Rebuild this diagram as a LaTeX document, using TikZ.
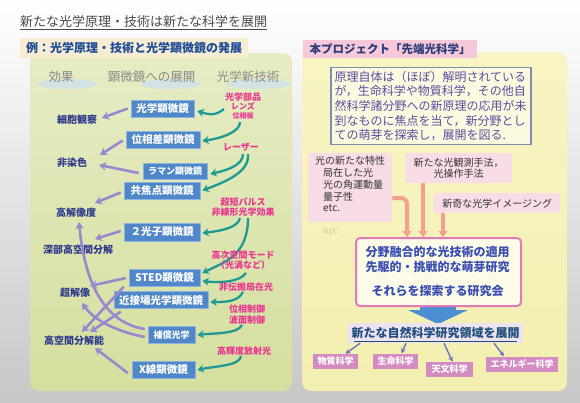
\documentclass[tikz,border=0pt]{standalone}
\usepackage{fontspec}
\setmainfont{Noto Sans CJK JP}
\usetikzlibrary{arrows.meta}
\definecolor{mblue}{HTML}{4F87C8}
\definecolor{mblueedge}{HTML}{8DB4E0}
\definecolor{purp}{HTML}{9B87CD}
\definecolor{tealA}{HTML}{1F9A92}
\definecolor{magtx}{HTML}{EA3590}
\definecolor{effbl}{HTML}{2E3A8C}
\definecolor{hdrgray}{HTML}{8A8A8A}
\definecolor{grnT}{HTML}{E6ECC4}
\definecolor{grnB}{HTML}{D4DF9E}
\definecolor{yelT}{HTML}{F8F5C4}
\definecolor{yelB}{HTML}{F3EFB0}
\definecolor{cream}{HTML}{F7EDD3}
\definecolor{pinkhdr}{HTML}{F5C8DA}
\definecolor{pinklt}{HTML}{F8DCE6}
\definecolor{navy}{HTML}{2C3C7A}
\definecolor{hdrblue}{HTML}{1F4C96}
\definecolor{txtpurp}{HTML}{5E4C9F}
\definecolor{bordgray}{HTML}{7E8CAE}
\definecolor{salmon}{HTML}{F4A08E}
\definecolor{pinkbord}{HTML}{E07BB8}
\definecolor{resblue}{HTML}{3A4DB2}
\definecolor{arrblue}{HTML}{4A8FD2}
\definecolor{lav}{HTML}{ECE2F0}
\definecolor{deepbl}{HTML}{1F4F7C}
\definecolor{orchidb}{HTML}{D48BC1}
\definecolor{slatea}{HTML}{6E72C6}
\definecolor{darktx}{HTML}{333333}
\definecolor{titlegray}{HTML}{4A4A4A}
\definecolor{glow}{HTML}{CFE1EE}
\newcommand\fsz[2]{\fontsize{#1}{#2}\selectfont}
\tikzset{
  mscope/.style={draw=mblueedge, line width=0.6pt, fill=mblue, text=white, font=\bfseries\fsz{10.5}{12}, inner sep=0pt, minimum height=17pt},
  eff/.style={text=effbl, font=\bfseries\fsz{10}{12}, inner sep=0pt},
  tech/.style={text=magtx, font=\bfseries\fsz{9}{10.5}, align=center, inner sep=0pt},
  colhdr/.style={text=hdrgray, font=\fsz{12.5}{14}, inner sep=0pt},
  tarr/.style={draw=tealA, line width=2.3pt, -{Stealth[length=6.5pt,width=8pt]}},
  parr/.style={draw=purp, line width=2.6pt, -{Stealth[length=7pt,width=8.5pt]}},
  sarr/.style={draw=salmon, line width=4pt, -{Triangle[length=6pt,width=9pt]}},
  barr/.style={draw=slatea, line width=1.4pt, -{Stealth[length=5pt,width=5pt]}},
  sci/.style={fill=orchidb, text=white, font=\bfseries\fsz{9}{10}, inner sep=0pt, minimum height=15pt},
}
\begin{document}
\begin{tikzpicture}[x=1pt,y=-1pt]
\useasboundingbox (0,0) rectangle (580,402);
\shade[top color=white, bottom color=black!22] (0,0) rectangle (580,402);
% title
\node[anchor=west, text=titlegray, font=\fsz{13}{15}, inner sep=0pt] (title) at (20,22) {新たな光学原理・技術は新たな科学を展開};
\draw[titlegray, line width=0.8pt] ([yshift=-1.5pt]title.south west) -- ([yshift=-1.5pt]title.south east);
% left panel
\shade[top color=grnT, bottom color=grnB, rounded corners=9pt] (30,53) rectangle (292,391);
\node[fill=cream, anchor=north west, minimum width=228pt, minimum height=20pt, inner sep=0pt, text=hdrblue, font=\bfseries\fsz{12}{14}] (lhdr) at (20,38) {例：光学原理・技術と光学顕微鏡の発展};
% column headers
\fill[glow, opacity=0.8] (67,84) ellipse [x radius=30pt, y radius=5pt];
\fill[glow, opacity=0.8] (170,84) ellipse [x radius=30pt, y radius=5pt];
\fill[glow, opacity=0.8] (258,84) ellipse [x radius=32pt, y radius=5pt];
\node[colhdr] (h1) at (61,77) {効果};
\node[colhdr] (h2) at (151.5,77) {顕微鏡への展開};
\node[colhdr] (h3) at (248,77) {光学新技術};
% microscopes
\node[mscope, minimum width=63pt] (m1) at (162.5,108.5) {光学顕微鏡};
\node[mscope, minimum width=74pt] (m2) at (163,139.5) {位相差顕微鏡};
\node[mscope, minimum width=64pt, minimum height=16pt, font=\bfseries\fsz{9}{10}] (m3) at (175,171) {ラマン顕微鏡};
\node[mscope, minimum width=76pt] (m4) at (162,190.5) {共焦点顕微鏡};
\node[mscope, minimum width=76pt, minimum height=18pt] (m5) at (162,232) {２光子顕微鏡};
\node[mscope, minimum width=71pt] (m6) at (164.5,278) {STED顕微鏡};
\node[mscope, minimum width=94pt] (m7) at (161,300) {近接場光学顕微鏡};
\node[mscope, minimum width=47pt, font=\bfseries\fsz{9}{10}] (m8) at (171.5,335) {補償光学};
\node[mscope, minimum width=63pt] (m9) at (163.5,370) {X線顕微鏡};
% effects
\node[eff] (e1) at (77,120) {細胞観察};
\node[eff] (e2) at (72,163) {非染色};
\node[eff] (e3) at (76,213) {高解像度};
\node[eff] (e4) at (78,250) {深部高空間分解};
\node[eff] (e5) at (75,293) {超解像};
\node[eff] (e6) at (74,341) {高空間分解能};
% teal arrows
\draw[tarr] (224,109) .. controls (214,117) and (207,114) .. ([xshift=3pt,yshift=-2.5pt]m1.east);
\draw[tarr] (240,122) .. controls (240,132) and (222,138) .. ([xshift=2pt,yshift=-1.5pt]m2.east);
\draw[tarr] (243,154) .. controls (243,165) and (228,170) .. ([xshift=3pt,yshift=-3pt]m3.east);
\draw[tarr] (248,154) .. controls (250,172) and (225,182) .. ([xshift=2pt]m4.east);
\draw[tarr] (240,218) .. controls (238,228) and (220,231) .. ([xshift=2pt,yshift=-1pt]m5.east);
\draw[tarr] (248,218) .. controls (248,255) and (225,262) .. ([xshift=2pt,yshift=5pt]m6.east);
\draw[tarr] (246,273) .. controls (240,282) and (220,283) .. ([xshift=2pt,yshift=-3pt]m6.east);
\draw[tarr] (243,292) .. controls (238,302) and (225,302) .. ([xshift=2pt,yshift=-2pt]m7.east);
\draw[tarr] (242,325) .. controls (238,334) and (215,333) .. ([xshift=2pt]m8.east);
\draw[tarr] (241,356) .. controls (240,366) and (215,366) .. ([xshift=2pt]m9.east);
% techniques (on top of arrows)
\node[tech, font=\bfseries\fsz{9}{9}] (t1) at (243,106) {光学部品\\{\fsz{8}{9}レンズ}\\{\fsz{7}{9}位相板}};
\node[tech] (t2) at (241,147) {レーザー};
\node[tech] (t3) at (243,207) {超短パルス\\非線形光学効果};
\node[tech] (t4) at (243,260) {高次空間モード\\（光渦など）};
\node[tech] (t5) at (246,287) {非伝搬局在光};
\node[tech] (t6) at (247,314.5) {位相制御\\波面制御};
\node[tech] (t7) at (244,351) {高輝度放射光};
% purple arrows
\draw[parr] ([xshift=-3pt]m1.west) -- (102,118);
\draw[parr] ([xshift=-3pt,yshift=-1pt]m2.west) -- (100,155);
\draw[parr] ([xshift=-4pt,yshift=-2pt]m3.west) -- (99,165);
\draw[parr] ([xshift=-3pt,yshift=-2pt]m4.west) -- (95,203);
\draw[parr] ([xshift=-3pt,yshift=1pt]m5.west) -- (95,239);
\draw[parr] ([xshift=-3pt]m6.west) -- (90,286);
\draw[parr] ([xshift=-5pt]m6.south west) -- (82,332);
\draw[parr] ([xshift=7pt,yshift=-3pt]m7.south west) -- (90,332);
\draw[parr] ([xshift=-3pt,yshift=-2pt]m8.west) .. controls (115,331) and (94,320) .. (82,303);
\draw[parr] ([xshift=-3pt,yshift=6pt]m8.west) .. controls (100,322) and (84,275) .. (79,222);
\draw[parr] ([xshift=-4pt,yshift=-3pt]m9.west) -- (95,348);
% right panel
\shade[top color=yelT, bottom color=yelB, rounded corners=9pt] (302,52) rectangle (567,391);
\node[fill=pinkhdr, anchor=north west, minimum width=174pt, minimum height=18pt, inner sep=0pt, text=navy, font=\bfseries\fsz{11.5}{13}] (rhdr) at (303,40) {本プロジェクト「先端光科学」};
\node[draw=bordgray, line width=1.2pt, fill=yelT!50!white, text width=193pt, inner xsep=3.5pt, inner ysep=3pt, align=left, text=txtpurp, font=\fsz{12}{14.7}] (desc) at (431,106) {原理自体は（ほぼ）解明されている\\が，生命科学や物質科学，その他自\\然科学諸分野への新原理の応用が未\\到なものに焦点を当て，新分野とし\\ての萌芽を探索し，展開を図る.};
% pink boxes
\node[fill=pinklt, anchor=north west, minimum width=84pt, minimum height=69pt, inner sep=0pt] (pA) at (308,153) {};
\node[anchor=north west, inner sep=0pt, align=left, text=darktx, font=\fsz{10}{11.8}] (pAt) at (315,156) {光の新たな特性\\\hspace*{8pt}局在した光\\\hspace*{8pt}光の角運動量\\\hspace*{8pt}量子性\\\hspace*{8pt}etc.};
\node[anchor=north west, inner sep=0pt, text=darktx, opacity=0.18, yscale=-1, transform shape, font=\fsz{10}{11.8}] (pAr) at (323,236) {etc.};
\node[fill=pinklt, anchor=north west, minimum width=107pt, minimum height=30pt, inner sep=0pt, align=center, text=darktx, font=\fsz{10}{11.5}] (pB) at (405,153) {新たな光観測手法，\\光操作手法};
\node[fill=pinklt, anchor=north west, minimum width=126pt, minimum height=20pt, inner sep=0pt, text=darktx, font=\fsz{10}{11.5}] (pC) at (434,193) {新奇な光学イメージング};
% blue block arrow
\fill[arrblue] (420,304) -- (456,304) -- (456,310) -- (468,310) -- (438,324) -- (408,310) -- (420,310) -- cycle;
% research box
\node[draw=pinkbord, line width=2pt, rounded corners=4pt, fill=yelT!40!white, anchor=north west, minimum width=165pt, minimum height=68pt, inner sep=0pt] (res) at (355,237) {};
\node[align=center, inner sep=0pt, text=resblue, font=\bfseries\fsz{12}{15}] (rest) at (437.5,271.5) {分野融合的な光技術の適用\\先駆的・挑戦的な萌芽研究\\[9pt]それらを探索する研究会};
% salmon arrows
\draw[sarr, rounded corners=6pt] (pA.east |- 0,198) -- (407,198) -- (res.north -| 407,198);
\draw[sarr] (pB.south -| 423,0) -- (res.north -| 423,0);
\draw[sarr] (pC.south -| 443,0) -- (res.north -| 443,0);
% development
\node[fill=lav, minimum width=175pt, minimum height=20pt, inner sep=0pt, text=deepbl, font=\bfseries\fsz{12}{14}] (dev) at (435.5,333) {新たな自然科学研究領域を展開};
\draw[deepbl, line width=0.9pt] (354,341) -- (517,341);
\node[sci, minimum width=45pt] (s1) at (335.5,361.5) {物質科学};
\node[sci, minimum width=45pt] (s2) at (395.5,361) {生命科学};
\node[sci, minimum width=47pt] (s3) at (449.5,369.5) {天文科学};
\node[sci, minimum width=72pt] (s4) at (522,364) {エネルギー科学};
\draw[barr] (dev.south -| 360,0) -- ([xshift=10pt]s1.north);
\draw[barr] (dev.south -| 406,0) -- ([xshift=6pt]s2.north);
\draw[barr] (dev.south -| 444,0) -- ([xshift=3pt]s3.north);
\draw[barr] (dev.south -| 494,0) -- ([xshift=-18pt]s4.north);
\end{tikzpicture}
\end{document}
